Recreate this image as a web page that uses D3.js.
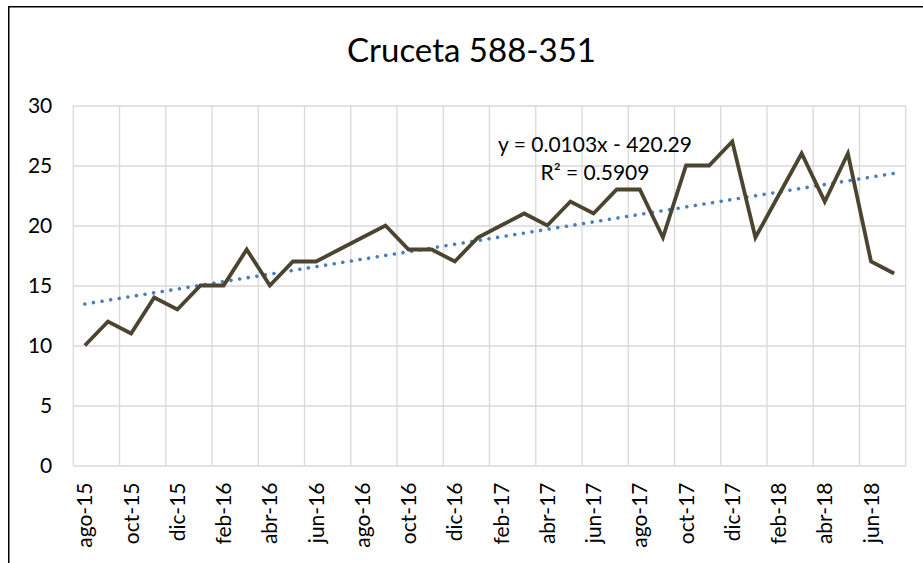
<!DOCTYPE html>
<html>
<head>
<meta charset="utf-8">
<script src="https://cdn.jsdelivr.net/npm/d3@7"></script>
<style>
  body { margin: 0; background: #fff; }
  svg { display: block; font-family: Lato, "Open Sans", sans-serif; }
</style>
</head>
<body>
<svg id="chart" width="923" height="563"></svg>
<script>
// months ago-15 .. jul-18
var months = ['ago-15','sep-15','oct-15','nov-15','dic-15','ene-16','feb-16','mar-16','abr-16','may-16','jun-16','jul-16',
              'ago-16','sep-16','oct-16','nov-16','dic-16','ene-17','feb-17','mar-17','abr-17','may-17','jun-17','jul-17',
              'ago-17','sep-17','oct-17','nov-17','dic-17','ene-18','feb-18','mar-18','abr-18','may-18','jun-18','jul-18'];
var values = [10,12,11,14,13,15,15,18,15,17,17,18,
              19,20,18,18,17,19,20,21,20,22,21,23,
              23,19,25,25,27,19,22.5,26,22,26,17,16];
var yTicks = [0,5,10,15,20,25,30];
var titleText = 'Cruceta 588-351';
var eqText = 'y = 0.0103x - 420.29';
var r2Text = 'R² = 0.5909';

(function () {
  var svg = d3.select('#chart');
  var pLeft = 73.3, pRight = 905.7, pTop = 105.5, pBottom = 465.5;

  // outer chart border (runs off the picture on right / bottom)
  svg.append('rect')
    .attr('x', 8.75).attr('y', 6.75)
    .attr('width', 940).attr('height', 600)
    .attr('fill', 'none').attr('stroke', '#000').attr('stroke-width', 1.5);

  var x = d3.scaleBand().domain(months).range([pLeft, pRight]).padding(0);
  var y = d3.scaleLinear().domain([0, 30]).range([pBottom, pTop]);
  var cx = function (m) { return x(m) + x.bandwidth() / 2; };

  // horizontal gridlines + y labels
  var yAxis = d3.axisLeft(y).tickValues(yTicks).tickSize(-(pRight - pLeft)).tickPadding(21);
  var gy = svg.append('g').attr('transform', 'translate(' + pLeft + ',0)').call(yAxis);
  gy.select('.domain').remove();
  gy.selectAll('line').attr('stroke', '#d9d9d9').attr('stroke-width', 1.3);
  gy.selectAll('text').attr('font-size', 21).attr('fill', '#000').attr('font-family', 'Lato, sans-serif');

  // vertical gridlines every 2 months
  var vx = months.filter(function (d, i) { return i % 2 === 0; }).map(function (m) { return x(m); });
  vx.push(pRight);
  svg.append('g').selectAll('line').data(vx).enter().append('line')
    .attr('x1', function (d) { return d; }).attr('x2', function (d) { return d; })
    .attr('y1', pTop).attr('y2', pBottom)
    .attr('stroke', '#d9d9d9').attr('stroke-width', 1.3);

  // x axis labels
  var xAxis = d3.axisBottom(x)
    .tickValues(months.filter(function (d, i) { return i % 2 === 0; }))
    .tickSize(0);
  var gx = svg.append('g').attr('transform', 'translate(0,' + pBottom + ')').call(xAxis);
  gx.select('.domain').remove();
  gx.selectAll('text')
    .attr('font-size', 21).attr('fill', '#000').attr('font-family', 'Lato, sans-serif')
    .attr('text-anchor', 'end')
    .attr('transform', 'rotate(-90)')
    .attr('x', -17).attr('y', 0).attr('dy', '0.36em');

  // trend line (least squares on month index)
  var n = values.length;
  var mi = (n - 1) / 2, my = d3.mean(values);
  var sxy = 0, sxx = 0;
  values.forEach(function (v, i) { sxy += (i - mi) * (v - my); sxx += (i - mi) * (i - mi); });
  var slope = sxy / sxx, icpt = my - slope * mi;
  svg.append('line')
    .attr('x1', cx(months[0])).attr('y1', y(icpt))
    .attr('x2', cx(months[n - 1])).attr('y2', y(icpt + slope * (n - 1)))
    .attr('stroke', '#4a7ebb').attr('stroke-width', 3.6)
    .attr('stroke-linecap', 'round').attr('stroke-dasharray', '0.01 8.7');

  // data line
  var line = d3.line()
    .x(function (d, i) { return cx(months[i]); })
    .y(function (d) { return y(d); });
  svg.append('path').datum(values)
    .attr('d', line)
    .attr('fill', 'none').attr('stroke', '#4a4430')
    .attr('stroke-width', 3.8).attr('stroke-linejoin', 'miter');

  // title
  svg.append('text').attr('x', 471.5).attr('y', 62)
    .attr('text-anchor', 'middle').attr('font-size', 33).attr('fill', '#000')
    .text(titleText);

  // trend label
  svg.append('text').attr('x', 595).attr('y', 151.5)
    .attr('text-anchor', 'middle').attr('font-size', 21).attr('fill', '#000')
    .text(eqText);
  svg.append('text').attr('x', 595).attr('y', 180)
    .attr('text-anchor', 'middle').attr('font-size', 21).attr('fill', '#000')
    .text(r2Text);
})();
</script>
</body>
</html>
